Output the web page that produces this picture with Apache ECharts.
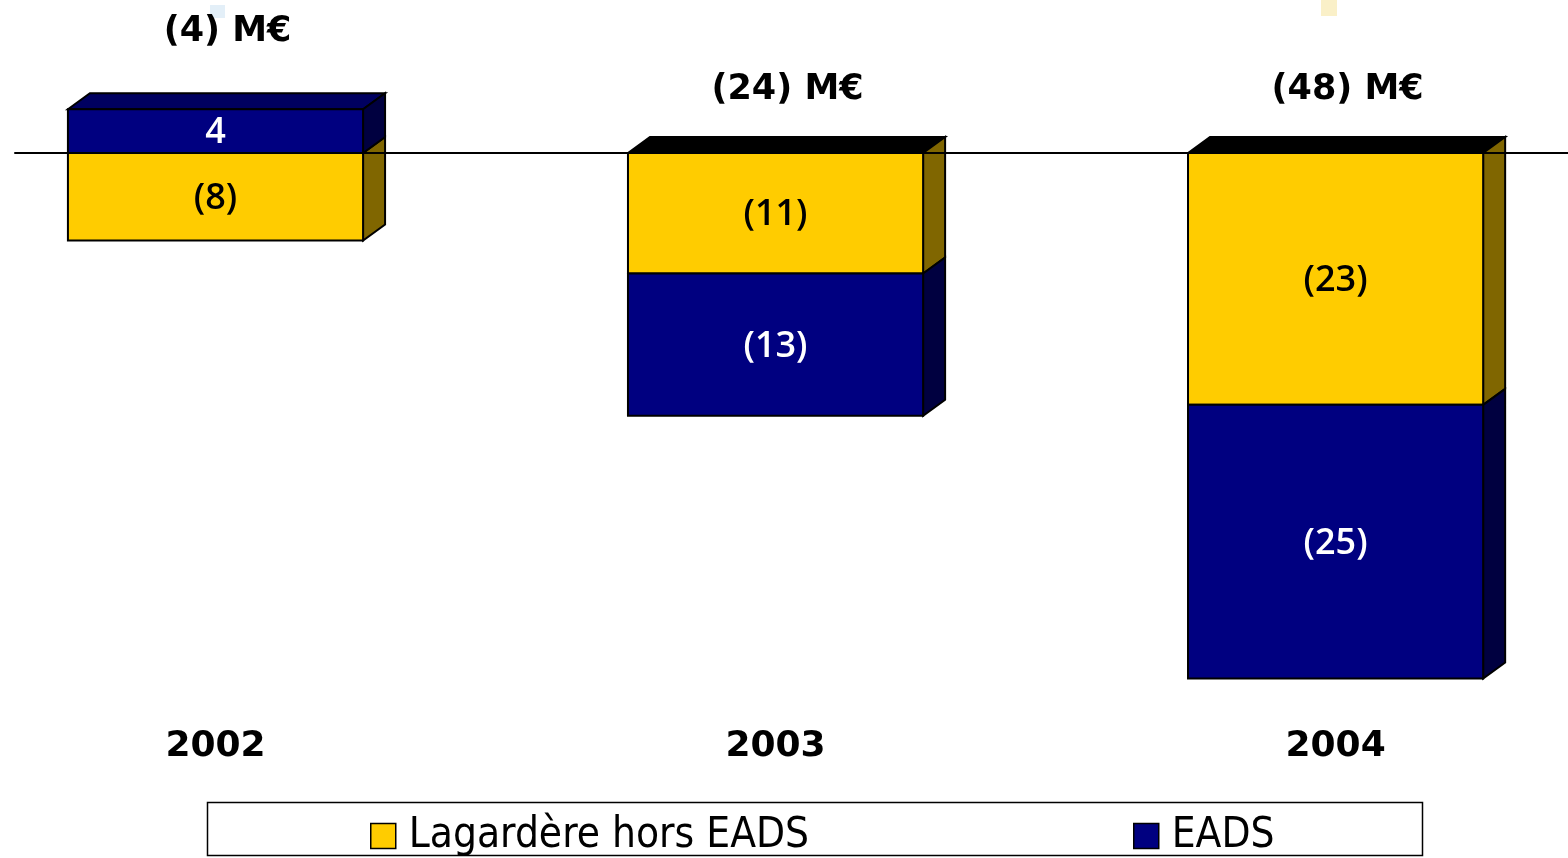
<!DOCTYPE html>
<html>
<head>
<meta charset="utf-8">
<script src="https://cdn.jsdelivr.net/npm/echarts@6/dist/echarts.min.js"></script>
<style>
html, body { margin: 0; padding: 0; background: #fff; }
#chart { width: 1568px; height: 858px; }
</style>
</head>
<body>
<div id="chart"></div>
<script>
var years = ['2002', '2003', '2004'];
var lagardere = [-8, -11, -23];
var eads = [4, -13, -25];
var totals = [-4, -24, -48];

var BAR_W = 0.527;      // largeur de barre en unités de l'axe x
var DX = 22, DY = -16;  // profondeur 3D

function fmt(v) { return v < 0 ? '(' + (-v) + ')' : String(v); }

// empilement : positifs et négatifs séparés, dans l'ordre des séries
var seriesList = [lagardere, eads];
var bases = [[], []];
var topIdx = [], topVal = [];
for (var i = 0; i < years.length; i++) {
    var pos = 0, neg = 0, best = -Infinity;
    for (var s = 0; s < seriesList.length; s++) {
        var v = seriesList[s][i];
        if (v >= 0) { bases[s][i] = pos; pos += v; } else { bases[s][i] = neg; neg += v; }
        var upper = Math.max(bases[s][i], bases[s][i] + v);
        if (upper > best) { best = upper; topIdx[i] = s; }
    }
    topVal[i] = pos;
}

function makeRender(s, color, side, topColor, textColor) {
    return function (params, api) {
        var i = api.value(0);
        var v = api.value(1);
        var b = bases[s][i];
        var a = api.coord([i, b]), c = api.coord([i, b + v]);
        var w = api.size([BAR_W, 0])[0];
        var x0 = a[0] - w / 2, x1 = a[0] + w / 2;
        var yTop = Math.min(a[1], c[1]), yBot = Math.max(a[1], c[1]);
        var children = [
            {type: 'polygon', shape: {points: [[x1, yTop], [x1 + DX, yTop + DY], [x1 + DX, yBot + DY], [x1, yBot]]},
                style: {fill: side, stroke: '#000', lineWidth: 2}},
            {type: 'rect', shape: {x: x0, y: yTop, width: w, height: yBot - yTop},
                style: {fill: color, stroke: '#000', lineWidth: 2}},
            {type: 'text', style: {text: fmt(v), x: (x0 + x1) / 2, y: (yTop + yBot) / 2 + 2, align: 'center',
                verticalAlign: 'middle', fill: textColor, font: '600 36px "Open Sans"'}}
        ];
        if (topIdx[i] === s) {
            children.unshift({type: 'polygon',
                shape: {points: [[x0, yTop], [x0 + DX, yTop + DY], [x1 + DX, yTop + DY], [x1, yTop]]},
                style: {fill: v > 0 ? topColor : '#000', stroke: '#000', lineWidth: 2}});
        }
        return {type: 'group', children: children};
    };
}

function toData(arr) {
    return arr.map(function (v, i) { return [i, v]; });
}

var chart = echarts.init(document.getElementById('chart'));

var legendBase = {
    top: 815, padding: 0, itemWidth: 25, itemHeight: 25, icon: 'rect', selectedMode: false,
    itemStyle: {borderColor: '#000', borderWidth: 1.5},
    textStyle: {fontFamily: 'DejaVu Sans Condensed', fontSize: 42, color: '#000', padding: [0, 0, 0, 8]}
};

chart.setOption({
    animation: false,
    grid: {left: 15, right: 0, top: 43.5, bottom: 135.6},
    xAxis: [{
        type: 'value', min: -0.358, max: 2.415, z: 10,
        axisLine: {onZero: true, lineStyle: {color: '#000', width: 2}},
        axisTick: {show: false}, axisLabel: {show: false}, splitLine: {show: false}
    }, {
        type: 'value', min: -0.358, max: 2.415, position: 'bottom',
        axisLine: {show: false}, axisTick: {show: false}, splitLine: {show: false},
        axisLabel: {
            customValues: [0, 1, 2], margin: 6,
            formatter: function (v) { return years[Math.round(v)]; },
            fontFamily: 'DejaVu Sans', fontWeight: 'bold', fontSize: 36, color: '#000'
        }
    }],
    yAxis: {type: 'value', min: -52, max: 10, show: false, splitLine: {show: false}},
    legend: [
        echarts.util.merge({left: 370, data: ['Lagardère hors EADS']}, legendBase),
        echarts.util.merge({left: 1133, data: ['EADS']}, legendBase)
    ],
    graphic: [
        {type: 'rect', shape: {x: 207.5, y: 802.5, width: 1215, height: 53},
            style: {fill: 'none', stroke: '#000', lineWidth: 1.5}},
        {type: 'rect', shape: {x: 210, y: 5, width: 15, height: 13}, style: {fill: '#e3eff8'}},
        {type: 'rect', shape: {x: 1321, y: 0, width: 16, height: 16}, style: {fill: '#faf0c8'}}
    ],
    series: [{
        name: 'Lagardère hors EADS', type: 'custom', itemStyle: {color: '#FFCC00'},
        renderItem: makeRender(0, '#FFCC00', '#806600', '#806600', '#000'),
        data: toData(lagardere)
    }, {
        name: 'EADS', type: 'custom', itemStyle: {color: '#000080'},
        renderItem: makeRender(1, '#000080', '#000040', '#000060', '#fff'),
        data: toData(eads)
    }, {
        name: 'total', type: 'custom', silent: true,
        renderItem: function (params, api) {
            var i = api.value(0);
            var p = api.coord([i, topVal[i]]);
            return {type: 'text', style: {text: fmt(api.value(1)) + ' M€', x: p[0] + 12,
                y: p[1] - (topVal[i] > 0 ? 77 : 63),
                align: 'center', verticalAlign: 'middle', fill: '#000',
                font: 'bold 35px "DejaVu Sans"'}};
        },
        data: toData(totals)
    }]
});
</script>
</body>
</html>
